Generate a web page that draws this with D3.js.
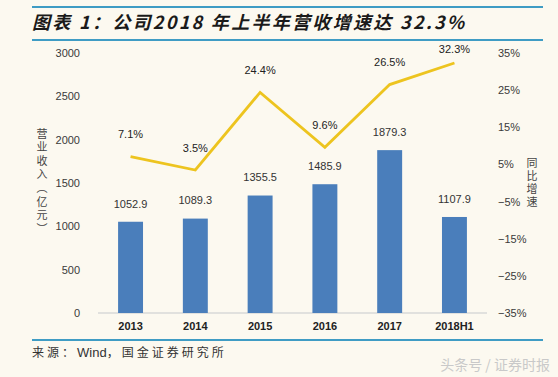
<!DOCTYPE html>
<html>
<head>
<meta charset="utf-8">
<script src="https://cdn.jsdelivr.net/npm/d3@7"></script>
<style>
    body { margin: 0; background: #fcf9f0; }
    svg { display: block; }
</style>
</head>
<body>
<div id="my_dataviz"></div>
<script>
// data
var years = ["2013", "2014", "2015", "2016", "2017", "2018H1"];
var revenue = [1052.9, 1089.3, 1355.5, 1485.9, 1879.3, 1107.9];
var growth = [7.1, 3.5, 24.4, 9.6, 26.5, 32.3];
var leftTicks = [0, 500, 1000, 1500, 2000, 2500, 3000];
var rightTicks = [-35, -25, -15, -5, 5, 15, 25, 35];

var W = 558, H = 377;
var margin = { top: 53, right: 71, bottom: 64, left: 98 };
var plotW = W - margin.left - margin.right,
    plotH = H - margin.top - margin.bottom;

var svg = d3.select("#my_dataviz").append("svg")
    .attr("width", W).attr("height", H);

svg.append("rect").attr("width", W).attr("height", H).attr("fill", "#fcf9f0");

// title block
svg.append("line").attr("x1", 32).attr("x2", 543).attr("y1", 7).attr("y2", 7)
    .attr("stroke", "#3f9cc4").attr("stroke-width", 2);
svg.append("line").attr("x1", 32).attr("x2", 543).attr("y1", 40).attr("y2", 40)
    .attr("stroke", "#3f9cc4").attr("stroke-width", 2);
svg.append("text")
    .attr("x", 32).attr("y", 29)
    .attr("font-family", "'Noto Sans CJK SC', 'Liberation Sans', sans-serif")
    .attr("font-size", 18).attr("font-weight", "bold").attr("font-style", "italic")
    .attr("letter-spacing", 2.3)
    .attr("fill", "#1a1a1a")
    .text("图表 1：公司2018 年上半年营收增速达 32.3%");

var g = svg.append("g").attr("transform", "translate(" + margin.left + "," + margin.top + ")");

var x = d3.scaleBand().domain(years).range([0, plotW]).paddingInner(0.615).paddingOuter(0.31);
var y = d3.scaleLinear().domain([0, 3000]).range([plotH, 0]);
var y2 = d3.scaleLinear().domain([-35, 35]).range([plotH, 0]);

// left axis
var yAxis = g.append("g").attr("class", "y_axis")
    .attr("transform", "translate(-18,0)")
    .call(d3.axisLeft(y).tickValues(leftTicks).tickSize(0).tickPadding(0).tickFormat(d3.format("d")));
yAxis.select(".domain").remove();
yAxis.selectAll("text")
    .attr("font-family", "'Liberation Sans', Arial, sans-serif")
    .attr("font-size", 11).attr("fill", "#3a3a3a");

// right axis
var yAxis2 = g.append("g").attr("class", "y2_axis")
    .attr("transform", "translate(" + (plotW + 11) + ",0)")
    .call(d3.axisRight(y2).tickValues(rightTicks).tickSize(0).tickPadding(0)
        .tickFormat(function (d) { return (d < 0 ? "\u2212" + (-d) : d) + "%"; }));
yAxis2.select(".domain").remove();
yAxis2.selectAll("text")
    .attr("font-family", "'Liberation Sans', Arial, sans-serif")
    .attr("font-size", 11).attr("fill", "#3a3a3a");

// baseline
g.append("line").attr("x1", 0).attr("x2", plotW).attr("y1", plotH).attr("y2", plotH)
    .attr("stroke", "#d8d8d8").attr("stroke-width", 1.5);

// x axis labels
var xAxis = g.append("g").attr("class", "x_axis")
    .attr("transform", "translate(0," + (plotH + 9) + ")")
    .call(d3.axisBottom(x).tickSize(0).tickPadding(0));
xAxis.select(".domain").remove();
xAxis.selectAll("text")
    .attr("font-family", "'Liberation Sans', Arial, sans-serif")
    .attr("font-size", 11).attr("font-weight", "bold").attr("fill", "#222");

// bars
g.selectAll(".bar").data(revenue).enter().append("rect")
    .attr("class", "bar")
    .attr("x", function (d, i) { return x(years[i]); })
    .attr("width", x.bandwidth())
    .attr("y", function (d) { return y(d); })
    .attr("height", function (d) { return plotH - y(d); })
    .attr("fill", "#4a7ebb");

g.selectAll(".bar_label").data(revenue).enter().append("text")
    .attr("class", "bar_label")
    .attr("x", function (d, i) { return x(years[i]) + x.bandwidth() / 2; })
    .attr("y", function (d) { return y(d) - 18; })
    .attr("dy", "0.35em")
    .attr("text-anchor", "middle")
    .attr("font-family", "'Liberation Sans', Arial, sans-serif")
    .attr("font-size", 11).attr("fill", "#333")
    .text(function (d) { return d.toFixed(1); });

// growth line
var line = d3.line()
    .x(function (d, i) { return x(years[i]) + x.bandwidth() / 2; })
    .y(function (d) { return y2(d); });
g.append("path").datum(growth)
    .attr("d", line)
    .attr("fill", "none")
    .attr("stroke", "#edc41f")
    .attr("stroke-width", 2.8)
    .attr("stroke-linejoin", "miter");

g.selectAll(".line_label").data(growth).enter().append("text")
    .attr("class", "line_label")
    .attr("x", function (d, i) { return x(years[i]) + x.bandwidth() / 2; })
    .attr("y", function (d) { return Math.max(y2(d) - 22, -4); })
    .attr("dy", "0.35em")
    .attr("text-anchor", "middle")
    .attr("font-family", "'Liberation Sans', Arial, sans-serif")
    .attr("font-size", 11).attr("fill", "#222")
    .text(function (d) { return d.toFixed(1) + "%"; });

// axis titles (vertical)
svg.append("text")
    .attr("x", 42).attr("y", 128)
    .attr("font-family", "'Noto Sans CJK SC', sans-serif")
    .attr("font-size", 11).attr("fill", "#444")
    .attr("letter-spacing", 2.6)
    .style("writing-mode", "vertical-rl")
    .style("text-orientation", "upright")
    .text("营业收入（亿元）");

svg.append("text")
    .attr("x", 532).attr("y", 157)
    .attr("font-family", "'Noto Sans CJK SC', sans-serif")
    .attr("font-size", 11).attr("fill", "#444")
    .attr("letter-spacing", 2)
    .style("writing-mode", "vertical-rl")
    .style("text-orientation", "upright")
    .text("同比增速");

// source
svg.append("line").attr("x1", 32).attr("x2", 543).attr("y1", 340).attr("y2", 340)
    .attr("stroke", "#3f9cc4").attr("stroke-width", 2);
var src = svg.append("text")
    .attr("x", 32).attr("y", 357)
    .attr("font-family", "'Noto Sans CJK SC', sans-serif")
    .attr("font-size", 12).attr("fill", "#333");
src.append("tspan").attr("letter-spacing", 3).text("来源：");
src.append("tspan").attr("font-family", "'Liberation Sans', Arial, sans-serif").attr("font-size", 13).text("Wind");
src.append("tspan").attr("letter-spacing", 3).text("，国金证券研究所");

// watermark
svg.append("text")
    .attr("x", 550).attr("y", 370)
    .attr("text-anchor", "end")
    .attr("font-family", "'Noto Sans CJK SC', sans-serif")
    .attr("font-size", 14).attr("fill", "#c9c9c9")
    .text("头条号 / 证券时报");
</script>
</body>
</html>
